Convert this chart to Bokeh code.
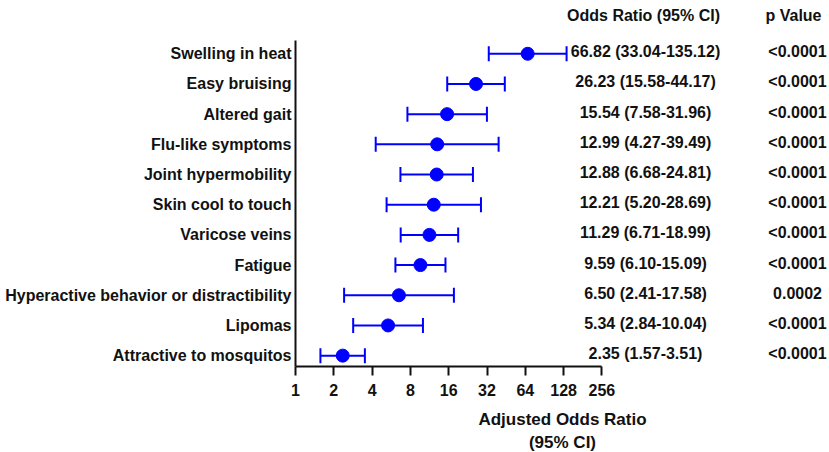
from bokeh.plotting import figure
from bokeh.models import ColumnDataSource, Range1d, FixedTicker, Whisker, TeeHead
from bokeh.core.properties import value
from bokeh.embed import file_html
from bokeh.resources import INLINE

# ---- data ----
symptoms = ["Swelling in heat", "Easy bruising", "Altered gait", "Flu-like symptoms",
            "Joint hypermobility", "Skin cool to touch", "Varicose veins", "Fatigue",
            "Hyperactive behavior or distractibility", "Lipomas", "Attractive to mosquitos"]
odds_ratio = [66.82, 26.23, 15.54, 12.99, 12.88, 12.21, 11.29, 9.59, 6.50, 5.34, 2.35]
ci_lower = [33.04, 15.58, 7.58, 4.27, 6.68, 5.20, 6.71, 6.10, 2.41, 2.84, 1.57]
ci_upper = [135.12, 44.17, 31.96, 39.49, 24.81, 28.69, 18.99, 15.09, 17.58, 10.04, 3.51]
p_values = ["<0.0001", "<0.0001", "<0.0001", "<0.0001", "<0.0001", "<0.0001",
            "<0.0001", "<0.0001", "0.0002", "<0.0001", "<0.0001"]
x_ticks = [1, 2, 4, 8, 16, 32, 64, 128, 256]

FONT = "Liberation Sans"
BLUE = "#0000ff"
INK = "#111111"
FS = "16px"

rows = list(range(len(symptoms)))
or_text = [f"{o:.2f} ({l:.2f}-{u:.2f})" for o, l, u in zip(odds_ratio, ci_lower, ci_upper)]

src = ColumnDataSource(dict(y=rows, orr=odds_ratio, lo=ci_lower, hi=ci_upper,
                            ortxt=or_text, ptxt=p_values))

PX_PER_DOUBLING = 38.3
AXIS_X = 295
FRAME_W = 534
x_end = 2 ** (FRAME_W / PX_PER_DOUBLING)

p = figure(output_backend="svg", toolbar_location=None,
           x_axis_type="log",
           frame_width=FRAME_W, frame_height=358,
           min_border_left=AXIS_X, min_border_right=0, min_border_top=8, min_border_bottom=86,
           x_range=Range1d(1, x_end), y_range=Range1d(10.36, -1.50))
p.outline_line_color = None
p.xgrid.visible = False
p.ygrid.visible = False
p.background_fill_color = "white"
p.border_fill_color = "white"

# x axis
xa = p.xaxis[0]
xa.ticker = FixedTicker(ticks=x_ticks, minor_ticks=[])
xa.major_label_overrides = {t: str(t) for t in x_ticks}
xa.bounds = (1, 256)
xa.axis_line_width = 2
xa.axis_line_color = INK
xa.major_tick_line_width = 2
xa.major_tick_line_color = INK
xa.major_tick_out = 9
xa.major_tick_in = 0
xa.minor_tick_out = 0
xa.minor_tick_in = 0
xa.major_label_text_font = FONT
xa.major_label_text_font_style = "bold"
xa.major_label_text_font_size = FS
xa.major_label_text_color = INK
xa.major_label_standoff = 8
xa.axis_label = "Adjusted Odds Ratio\n(95% CI)"
xa.axis_label_text_font = FONT
xa.axis_label_text_font_style = "bold"
xa.axis_label_text_font_size = "17px"
xa.axis_label_text_line_height = 1.25
xa.axis_label_text_color = INK
xa.axis_label_standoff = 11

# y axis
ya = p.yaxis[0]
ya.ticker = FixedTicker(ticks=rows, minor_ticks=[])
ya.major_label_overrides = {i: s for i, s in zip(rows, symptoms)}
ya.bounds = (-0.44, 10.36)
ya.axis_line_width = 2
ya.axis_line_color = INK
ya.major_tick_out = 0
ya.major_tick_in = 0
ya.minor_tick_out = 0
ya.minor_tick_in = 0
ya.major_label_text_font = FONT
ya.major_label_text_font_style = "bold"
ya.major_label_text_font_size = FS
ya.major_label_text_color = INK
ya.major_label_standoff = 4

# error bars
head_kw = dict(size=15, line_color=BLUE, line_width=2)
w = Whisker(source=src, base="y", lower="lo", upper="hi", dimension="width",
            line_color=BLUE, line_width=2,
            lower_head=TeeHead(**head_kw), upper_head=TeeHead(**head_kw))
p.add_layout(w)
p.scatter(x="orr", y="y", source=src, size=13, color=BLUE)

# text columns
or_x = 2 ** ((645 - AXIS_X) / PX_PER_DOUBLING)
pv_x = 2 ** ((797 - AXIS_X) / PX_PER_DOUBLING)
txt_kw = dict(text_font=value(FONT), text_font_style="bold", text_font_size=FS,
              text_color=INK, text_align="center", text_baseline="middle")
p.text(x=or_x, y="y", text="ortxt", source=src, y_offset=-2, **txt_kw)
p.text(x=pv_x, y="y", text="ptxt", source=src, y_offset=-2, **txt_kw)

hdr = ColumnDataSource(dict(x=[2 ** ((643 - AXIS_X) / PX_PER_DOUBLING), 2 ** ((793 - AXIS_X) / PX_PER_DOUBLING)],
                            y=[-1.27, -1.27], t=["Odds Ratio (95% CI)", "p Value"]))
p.text(x="x", y="y", text="t", source=hdr, **txt_kw)

open("out.html", "w").write(file_html(p, INLINE))
